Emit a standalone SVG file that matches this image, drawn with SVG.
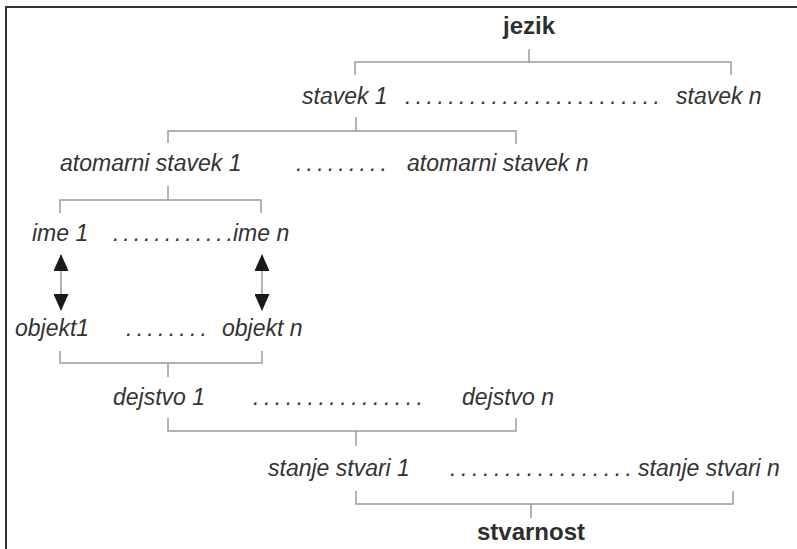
<svg xmlns="http://www.w3.org/2000/svg" width="797" height="549" viewBox="0 0 797 549">
  <style>
    .frame { stroke: #333; stroke-width: 2; fill: none; }
    .conn { stroke: #9a9a9a; stroke-width: 1.5; fill: none; }
    .lbl { font-family: "Liberation Sans", Arial, sans-serif; font-size: 23px; font-style: italic; fill: #333; }
    .head { font-family: "Liberation Sans", Arial, sans-serif; font-size: 24px; font-weight: bold; fill: #2e2e2e; text-anchor: middle; }
    .dots { font-family: "Liberation Sans", Arial, sans-serif; font-size: 23px; font-style: italic; fill: #333; }
  </style>
  <defs>
    <marker id="tri" viewBox="0 0 17 15" refX="16" refY="7.5" markerWidth="17" markerHeight="15" markerUnits="userSpaceOnUse" orient="auto-start-reverse">
      <path d="M0,0 L17,7.5 L0,15 Z" fill="#1a1a1a"/>
    </marker>
  </defs>

  <rect width="797" height="549" fill="#fff"/>
  <!-- frame (top and left edges only) -->
  <path class="frame" d="M6,7 H797 M6,6 V549"/>

  <!-- connectors -->
  <g id="connectors">
    <path class="conn" d="M529,49 V62 M355,75 V62 H731 V75"/>
    <path class="conn" d="M356,117 V131 M168,143 V131 H516 V144"/>
    <path class="conn" d="M168,186 V200 M60,213 V200 H261 V213"/>
    <path class="conn" d="M61,255 V310" marker-start="url(#tri)" marker-end="url(#tri)"/>
    <path class="conn" d="M262,255 V310" marker-start="url(#tri)" marker-end="url(#tri)"/>
    <path class="conn" d="M60,351 V363 H262 V351 M168,363 V377"/>
    <path class="conn" d="M168,418 V431 H516 V418 M356,431 V446"/>
    <path class="conn" d="M356,491 V504 H733 V491 M531,504 V518"/>
  </g>

  <g id="jezik"><text class="head" x="529" y="34">jezik</text></g>

  <g id="stavki">
    <text class="lbl" x="302" y="104">stavek 1</text>
    <text class="dots" x="405" y="104" textLength="255" lengthAdjust="spacing">........................</text>
    <text class="lbl" x="676" y="104">stavek n</text>
  </g>

  <g id="atomarni-stavki">
    <text class="lbl" x="60" y="171">atomarni stavek 1</text>
    <text class="dots" x="296" y="171" textLength="91" lengthAdjust="spacing">.........</text>
    <text class="lbl" x="407" y="171">atomarni stavek n</text>
  </g>

  <g id="imena">
    <text class="lbl" x="32" y="241">ime 1</text>
    <text class="dots" x="113" y="241" textLength="120" lengthAdjust="spacing">............</text>
    <text class="lbl" x="233" y="241">ime n</text>
  </g>

  <g id="objekti">
    <text class="lbl" x="15" y="336">objekt1</text>
    <text class="dots" x="126" y="336" textLength="81" lengthAdjust="spacing">........</text>
    <text class="lbl" x="222" y="336">objekt n</text>
  </g>

  <g id="dejstva">
    <text class="lbl" x="113" y="405">dejstvo 1</text>
    <text class="dots" x="253" y="405" textLength="170" lengthAdjust="spacing">................</text>
    <text class="lbl" x="462" y="405">dejstvo n</text>
  </g>

  <g id="stanja-stvari">
    <text class="lbl" x="268" y="476">stanje stvari 1</text>
    <text class="dots" x="450" y="476" textLength="182" lengthAdjust="spacing">.................</text>
    <text class="lbl" x="638" y="476">stanje stvari n</text>
  </g>

  <g id="stvarnost"><text class="head" x="531" y="540">stvarnost</text></g>
</svg>
